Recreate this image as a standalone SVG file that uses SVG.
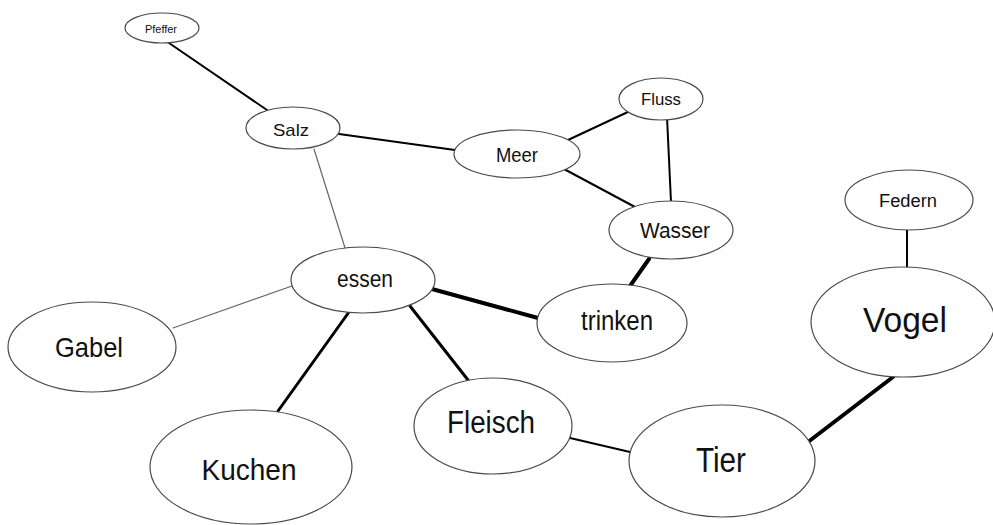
<svg xmlns="http://www.w3.org/2000/svg" width="993" height="525" viewBox="0 0 993 525">
  <style>
    .node ellipse { fill: #ffffff; stroke: #4a4a4a; stroke-width: 1.2; }
    .node text { font-family: "Liberation Sans", Arial, sans-serif; fill: #111111; text-anchor: middle; }
    .edge { stroke: #000000; fill: none; stroke-linecap: round; }
    .thin { stroke: #666666; stroke-width: 1.2; }
    .mid { stroke-width: 2; }
    .bold { stroke-width: 3; }
    .heavy { stroke-width: 4; }
  </style>
  <rect width="993" height="525" fill="#ffffff"/>

  <g id="connectors">
    <line class="edge mid" x1="169" y1="43" x2="267" y2="110"/>
    <line class="edge mid" x1="339" y1="134" x2="455" y2="150"/>
    <line class="edge mid" x1="568" y1="140" x2="630" y2="111"/>
    <line class="edge mid" x1="564" y1="169" x2="635" y2="207"/>
    <line class="edge mid" x1="667" y1="117" x2="671" y2="202"/>
    <line class="edge thin" x1="314" y1="149" x2="345" y2="248"/>
    <line class="edge thin" x1="173" y1="328" x2="292" y2="286"/>
    <line class="edge heavy" x1="432" y1="289" x2="538" y2="318"/>
    <line class="edge heavy" x1="649" y1="259" x2="630" y2="286"/>
    <line class="edge bold" x1="349" y1="312" x2="278" y2="411"/>
    <line class="edge bold" x1="410" y1="306" x2="468" y2="380"/>
    <line class="edge mid" x1="570" y1="438" x2="630" y2="452"/>
    <line class="edge heavy" x1="808" y1="442" x2="893" y2="377"/>
    <line class="edge mid" x1="907" y1="230" x2="907" y2="268"/>
  </g>

  <g id="pfeffer" class="node">
    <ellipse cx="162" cy="28" rx="37" ry="15"/>
    <text x="161" y="33" font-size="10.5" textLength="32" lengthAdjust="spacingAndGlyphs">Pfeffer</text>
  </g>
  <g id="salz" class="node">
    <ellipse cx="293" cy="128" rx="47" ry="21"/>
    <text x="291" y="136" font-size="17" textLength="36" lengthAdjust="spacingAndGlyphs">Salz</text>
  </g>
  <g id="meer" class="node">
    <ellipse cx="517" cy="154" rx="63" ry="24"/>
    <text x="517" y="162" font-size="20" textLength="42" lengthAdjust="spacingAndGlyphs">Meer</text>
  </g>
  <g id="fluss" class="node">
    <ellipse cx="661" cy="99" rx="42" ry="21"/>
    <text x="661" y="105" font-size="17" textLength="40" lengthAdjust="spacingAndGlyphs">Fluss</text>
  </g>
  <g id="wasser" class="node">
    <ellipse cx="671" cy="230" rx="62" ry="29"/>
    <text x="675" y="238" font-size="22" textLength="70" lengthAdjust="spacingAndGlyphs">Wasser</text>
  </g>
  <g id="federn" class="node">
    <ellipse cx="909" cy="200" rx="64" ry="30"/>
    <text x="908" y="207" font-size="18" textLength="58" lengthAdjust="spacingAndGlyphs">Federn</text>
  </g>
  <g id="essen" class="node">
    <ellipse cx="363" cy="280" rx="72" ry="33"/>
    <text x="365" y="287" font-size="23" textLength="56" lengthAdjust="spacingAndGlyphs">essen</text>
  </g>
  <g id="trinken" class="node">
    <ellipse cx="612" cy="323" rx="75" ry="39"/>
    <text x="617" y="330" font-size="27" textLength="72" lengthAdjust="spacingAndGlyphs">trinken</text>
  </g>
  <g id="gabel" class="node">
    <ellipse cx="92" cy="347" rx="84" ry="45"/>
    <text x="89" y="357" font-size="28" textLength="68" lengthAdjust="spacingAndGlyphs">Gabel</text>
  </g>
  <g id="kuchen" class="node">
    <ellipse cx="251" cy="467" rx="101" ry="57"/>
    <text x="249" y="480" font-size="30" textLength="95" lengthAdjust="spacingAndGlyphs">Kuchen</text>
  </g>
  <g id="fleisch" class="node">
    <ellipse cx="493" cy="426" rx="79" ry="48"/>
    <text x="491" y="433" font-size="31" textLength="88" lengthAdjust="spacingAndGlyphs">Fleisch</text>
  </g>
  <g id="tier" class="node">
    <ellipse cx="722" cy="461" rx="93" ry="56"/>
    <text x="721" y="472" font-size="35" textLength="50" lengthAdjust="spacingAndGlyphs">Tier</text>
  </g>
  <g id="vogel" class="node">
    <ellipse cx="903" cy="322" rx="92" ry="55"/>
    <text x="905" y="332" font-size="35" textLength="84" lengthAdjust="spacingAndGlyphs">Vogel</text>
  </g>
</svg>
